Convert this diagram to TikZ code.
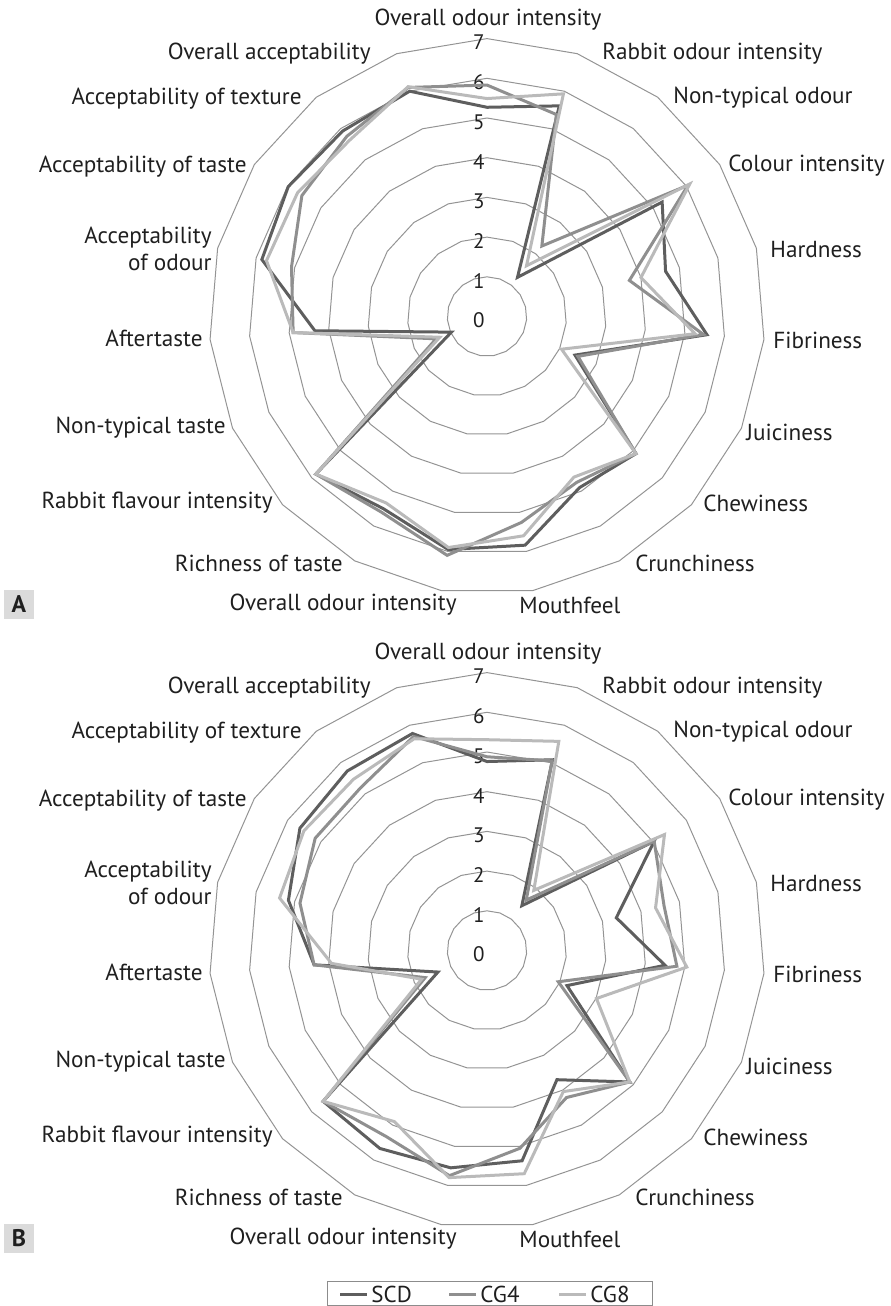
\documentclass[tikz,border=0pt]{standalone}
\usepackage{fontspec}
\setmainfont{PT Sans}
\usetikzlibrary{positioning, calc}
\tikzset{
	ring/.style={draw=black!42, line width=0.5pt}, % grid polygons of the radar
	scd/.style={draw=black!63, line width=1.5pt}, % series SCD
	cgfour/.style={draw=black!44, line width=1.5pt}, % series CG4
	cgeight/.style={draw=black!27, line width=1.5pt}, % series CG8
	axislabel/.style={font=\fontsize{11.6}{13.5}\selectfont, text=black!88, inner sep=0pt, align=right}, % attribute names
	ticklabel/.style={font=\fontsize{10.5}{11}\selectfont, text=black!88, inner sep=0pt, anchor=east}, % scale 0..7
	panel/.style={fill=black!14, text=black!88, font=\fontsize{12}{12}\selectfont\bfseries, minimum width=15pt, minimum height=14.5pt, inner sep=0pt}, % A / B
	legendbox/.style={draw=black!45, line width=0.5pt},
	legendlabel/.style={font=\fontsize{11.5}{12}\selectfont, text=black!88, inner sep=0pt},
}

% one radar panel: #1 centre y, #2 letter, #3 SCD, #4 CG4, #5 CG8
\newcommand{\radarpanel}[5]{%
	\begin{scope}[shift={(487,#1)}]
		% rings
		\foreach \r in {1,...,7}
			\draw[ring] (-90:\r*39.7) \foreach \k in {1,...,18} {-- (\k*360/19-90:\r*39.7)} -- cycle;
		% scale
		\foreach \r in {0,...,7}
			\node[ticklabel] (#2-t\r) at (-2,{4-\r*39.7}) {\r};
		% attributes
		\foreach \txt/\dx/\dy/\anc [count=\k] in {
			Overall odour intensity/1/-296.5/center,
			Rabbit odour intensity/115/-262.5/west,
			Non-typical odour/186/-218.5/west,
			Colour intensity/241/-150.5/west,
			Hardness/283/-66.5/west,
			Fibriness/286/23.5/west,
			Juiciness/259/115.5/west,
			Chewiness/216/186.5/west,
			Crunchiness/148/246.5/west,
			Mouthfeel/32/288.5/west,
			Overall odour intensity/-30/288.5/east,
			Richness of taste/-144/246.5/east,
			Rabbit flavour intensity/-214/186.5/east,
			Non-typical taste/-261/111.5/east,
			Aftertaste/-284/21.5/east,
			Acceptability\\of odour/-275/-67.5/east,
			Acceptability of taste/-240/-149.5/east,
			Acceptability of texture/-185/-217.5/east,
			Overall acceptability/-116/-262.5/east}
			\node[axislabel, anchor=\anc] (#2-l\k) at (\dx,\dy) {\txt};
		% series
		\foreach \v [count=\k from 0] in {#3}
			\coordinate (#2-s\k) at (\k*360/19-90:\v*39.7);
		\foreach \v [count=\k from 0] in {#4}
			\coordinate (#2-m\k) at (\k*360/19-90:\v*39.7);
		\foreach \v [count=\k from 0] in {#5}
			\coordinate (#2-e\k) at (\k*360/19-90:\v*39.7);
		\draw[scd] (#2-s0) \foreach \k in {1,...,18} {-- (#2-s\k)} -- cycle;
		\draw[cgfour] (#2-m0) \foreach \k in {1,...,18} {-- (#2-m\k)} -- cycle;
		\draw[cgeight] (#2-e0) \foreach \k in {1,...,18} {-- (#2-e\k)} -- cycle;
		% letter
		\node[panel] (#2) at (-468,287.5) {#2};
	\end{scope}}

\begin{document}
\begin{tikzpicture}[x=0.5pt, y=-0.5pt]
	\useasboundingbox (0,0) rectangle (890,1306);
	
	% panel A
	\radarpanel{316.5}{A}
		{5.27,5.61,1.25,5.27,4.64,5.56,2.42,5.1,4.9,5.84,5.95,5.5,5.86,0.98,4.35,5.85,5.98,5.92,6.0}
		{5.83,5.38,2.25,6.05,3.7,5.47,2.5,5.1,4.75,5.26,6.1,5.6,5.86,1.4,4.9,5.08,5.57,5.75,6.1}
		{5.49,5.93,1.62,6.1,4.0,5.26,2.05,5.1,4.6,5.6,5.9,5.34,5.86,1.3,4.9,5.73,5.7,5.63,6.12}
	
	% panel B
	\radarpanel{950.5}{B}
		{4.76,5.08,1.43,5.03,3.36,4.5,2.2,4.89,3.7,5.37,5.55,5.67,5.61,1.35,4.37,5.16,5.63,5.73,5.78}
		{4.88,5.05,1.61,5.03,4.6,4.8,1.96,4.89,4.21,5.05,5.75,5.33,5.61,1.7,4.37,4.86,5.17,5.19,5.7}
		{5.31,5.57,1.92,5.34,4.38,5.05,3.01,4.89,4.04,5.7,5.8,4.9,5.61,1.8,3.93,5.39,5.51,5.47,5.64}
	
	% legend
	\draw[legendbox] (327,1281) rectangle (652,1305);
	\coordinate (scd-a) at (340,1294);
	\coordinate (scd-b) at (367,1294);
	\coordinate (cgfour-a) at (449,1294);
	\coordinate (cgfour-b) at (476,1294);
	\coordinate (cgeight-a) at (559,1294);
	\coordinate (cgeight-b) at (586,1294);
	\draw[scd] (scd-a) -- (scd-b);
	\draw[cgfour] (cgfour-a) -- (cgfour-b);
	\draw[cgeight] (cgeight-a) -- (cgeight-b);
	\node[legendlabel, right=2pt of scd-b] (scd-l) {SCD};
	\node[legendlabel, right=2pt of cgfour-b] (cgfour-l) {CG4};
	\node[legendlabel, right=2pt of cgeight-b] (cgeight-l) {CG8};
	
\end{tikzpicture}
\end{document}
